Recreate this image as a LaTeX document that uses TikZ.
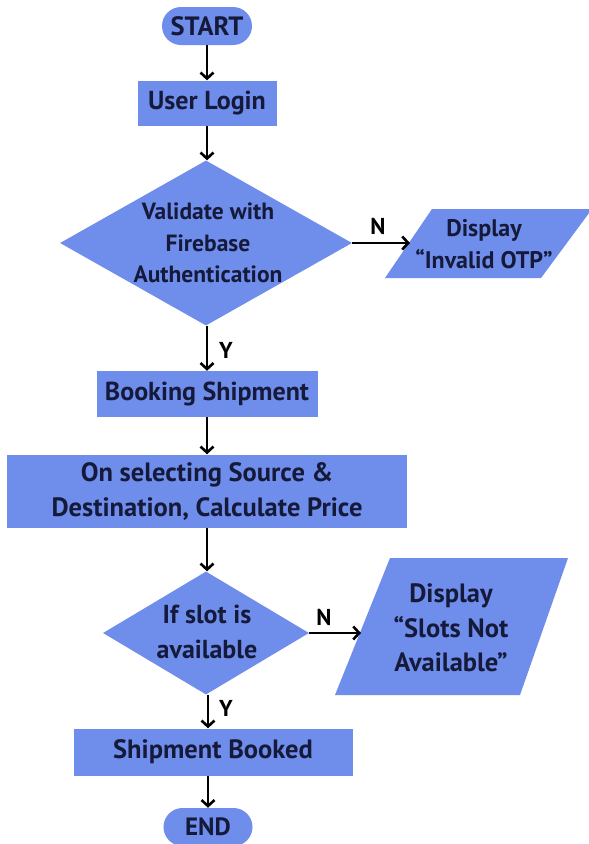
\documentclass[tikz,border=0pt]{standalone}
\usepackage{fontspec}
\setmainfont{PT Sans}
\usetikzlibrary{arrows.meta,shapes.geometric}
\definecolor{boxblue}{RGB}{111,141,235}
\definecolor{ink}{RGB}{22,26,58}
\newcommand{\fs}[2]{\bfseries\fontsize{#1}{#2}\selectfont}
\begin{document}
\begin{tikzpicture}[x=1pt,y=-1pt,
  txt/.style={text=ink, font=\fs{26}{34}, align=center, inner sep=0pt},
  box/.style={txt, fill=boxblue, draw=none, rectangle},
  term/.style={box, rounded corners=19pt},
  dia/.style={diamond, fill=boxblue, draw=none, inner sep=0pt},
  lbl/.style={text=black, font=\fs{23}{26}, inner sep=0pt},
  arr/.style={line width=2.6pt, black, -{Straight Barb[length=6pt,width=13pt]}}]
\useasboundingbox (0,0) rectangle (589,844);
\fill[white] (0,0) rectangle (589,844);
\clip (0,0) rectangle (589,844);

% terminals and boxes
\node[term, minimum width=90pt, minimum height=38pt, font=\fs{26.5}{30}] (start) at (207,26) {START};
\node[box, minimum width=139pt, minimum height=45pt, font=\fs{26}{30}] (login) at (207,103) {User Login};

% decision 1
\node[dia, minimum width=292pt, minimum height=165pt] (d1) at (206,243) {};
\node[txt, font=\fs{23.5}{31.5}] (d1t) at (208,243) {Validate with\\Firebase\\Authentication};

% output 1
\fill[boxblue] (432,209) -- (592,209) -- (541,278) -- (385,278) -- cycle;
\node[txt, font=\fs{24}{32}] (o1) at (484,244) {Display\\“Invalid OTP”};
\coordinate (o1w) at (410,243);

\node[box, minimum width=221pt, minimum height=46pt, font=\fs{26}{30}] (book) at (207,394) {Booking Shipment};
\node[box, minimum width=400pt, minimum height=73pt, font=\fs{26.5}{35}] (calc) at (207,491) {On selecting Source \&\\Destination, Calculate Price};

% decision 2
\node[dia, minimum width=206pt, minimum height=123pt] (d2) at (206,633) {};
\node[txt, font=\fs{26}{35}] (d2t) at (207,632) {If slot is\\available};

% output 2
\fill[boxblue] (390,558) -- (568,558) -- (520,695) -- (335,695) -- cycle;
\node[txt, font=\fs{26.5}{34.5}] (o2) at (451,628) {Display\\“Slots Not\\Available”};
\coordinate (o2w) at (361,633);

\node[box, minimum width=279pt, minimum height=47pt, font=\fs{26.5}{30}] (booked) at (213,752) {Shipment Booked};
\node[term, minimum width=89pt, minimum height=38pt, font=\fs{25}{30}] (end) at (208,827) {END};

% connectors
\draw[arr] (start.south) -- (login.north);
\draw[arr] (login.south) -- (login.south |- d1.north);
\draw[arr] (d1.east) -- (o1w);
\draw[arr] (d1.south -| book.north) -- (book.north);
\draw[arr] (book.south) -- (calc.north);
\draw[arr] (calc.south) -- (calc.south |- d2.north);
\draw[arr] (d2.east) -- (o2w);
\draw[arr] (d2.south -| end.north) -- (end.north |- booked.north);
\draw[arr] (booked.south -| end.north) -- (end.north);

% labels
\node[lbl] (n1) at (378,226) {N};
\node[lbl] (y1) at (226,350) {Y};
\node[lbl] (n2) at (324,617) {N};
\node[lbl] (y2) at (226,708) {Y};
\end{tikzpicture}
\end{document}
